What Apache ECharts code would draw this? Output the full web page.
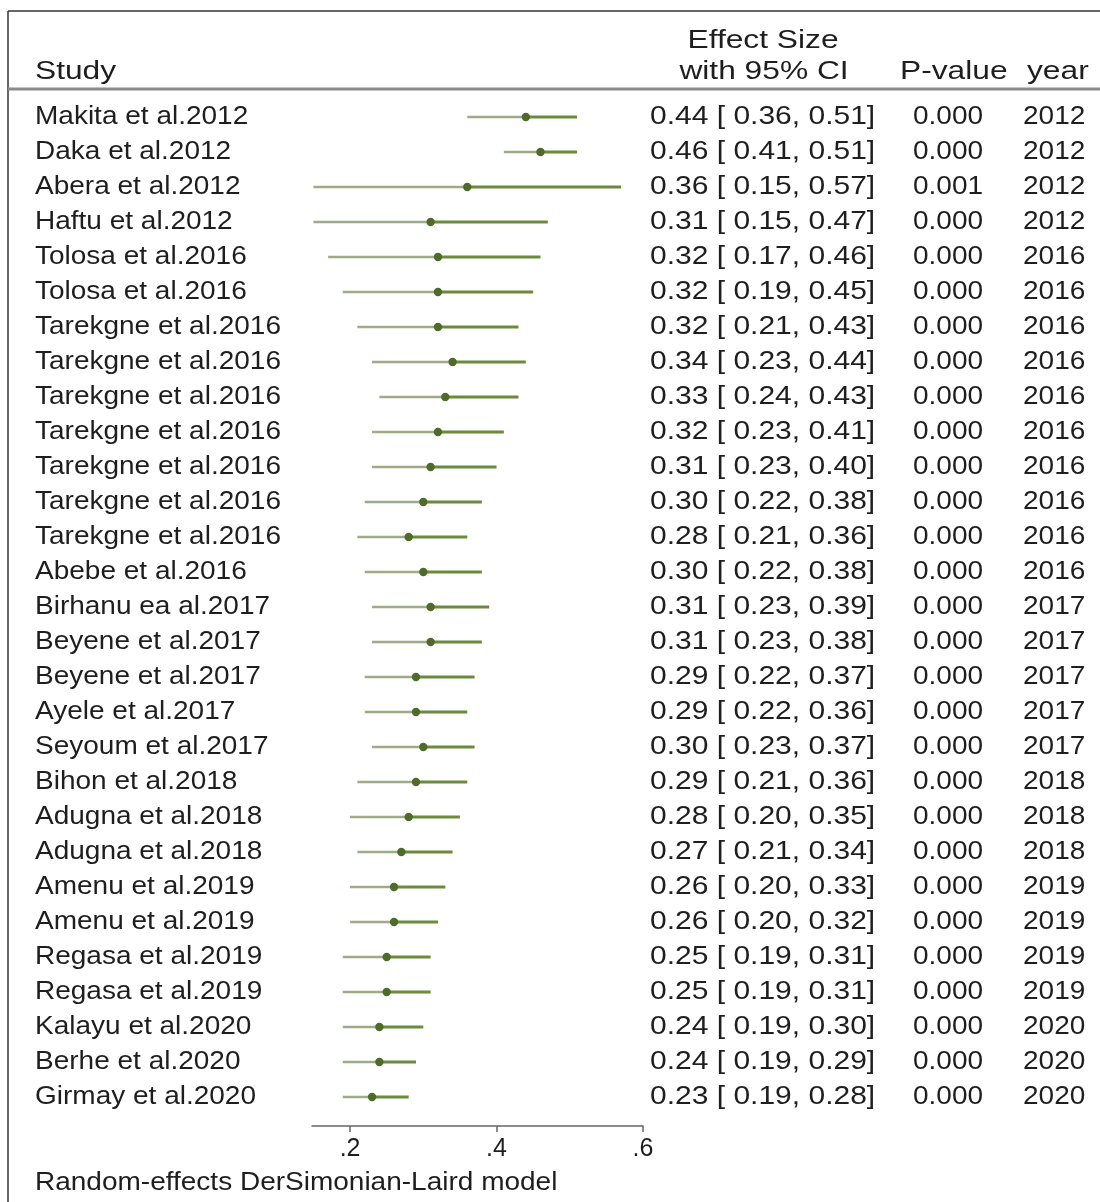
<!DOCTYPE html>
<html><head><meta charset="utf-8">
<script src="https://cdn.jsdelivr.net/npm/echarts@6/dist/echarts.min.js"></script>
<style>html,body{margin:0;padding:0;background:#fff}#c{width:1100px;height:1202px}</style>
</head><body><div id="c"></div>
<script>
const studies = ["Makita et al.2012","Daka et al.2012","Abera et al.2012","Haftu et al.2012","Tolosa et al.2016","Tolosa et al.2016","Tarekgne et al.2016","Tarekgne et al.2016","Tarekgne et al.2016","Tarekgne et al.2016","Tarekgne et al.2016","Tarekgne et al.2016","Tarekgne et al.2016","Abebe et al.2016","Birhanu ea al.2017","Beyene et al.2017","Beyene et al.2017","Ayele et al.2017","Seyoum et al.2017","Bihon et al.2018","Adugna et al.2018","Adugna et al.2018","Amenu et al.2019","Amenu et al.2019","Regasa et al.2019","Regasa et al.2019","Kalayu et al.2020","Berhe et al.2020","Girmay et al.2020"];
const effect = [0.44,0.46,0.36,0.31,0.32,0.32,0.32,0.34,0.33,0.32,0.31,0.30,0.28,0.30,0.31,0.31,0.29,0.29,0.30,0.29,0.28,0.27,0.26,0.26,0.25,0.25,0.24,0.24,0.23];
const lower = [0.36,0.41,0.15,0.15,0.17,0.19,0.21,0.23,0.24,0.23,0.23,0.22,0.21,0.22,0.23,0.23,0.22,0.22,0.23,0.21,0.20,0.21,0.20,0.20,0.19,0.19,0.19,0.19,0.19];
const upper = [0.51,0.51,0.57,0.47,0.46,0.45,0.43,0.44,0.43,0.41,0.40,0.38,0.36,0.38,0.39,0.38,0.37,0.36,0.37,0.36,0.35,0.34,0.33,0.32,0.31,0.31,0.30,0.29,0.28];
const pValues = ["0.000","0.000","0.001","0.000","0.000","0.000","0.000","0.000","0.000","0.000","0.000","0.000","0.000","0.000","0.000","0.000","0.000","0.000","0.000","0.000","0.000","0.000","0.000","0.000","0.000","0.000","0.000","0.000","0.000"];
const years = ["2012","2012","2012","2012","2016","2016","2016","2016","2016","2016","2016","2016","2016","2016","2017","2017","2017","2017","2017","2018","2018","2018","2019","2019","2019","2019","2020","2020","2020"];
const xTicks = [0.2, 0.4, 0.6];
const xRange = [0.148, 0.6];
const headers = {study: "Study", es1: "Effect Size", es2: "with 95% CI", p: "P-value", year: "year"};
const footnote = "Random-effects DerSimonian-Laird model";

const FF = '"Liberation Sans", Arial, sans-serif';
const BODY = '25px ' + FF, HEAD = '26px ' + FF;
const SXB = 1.12, SXCI = 1.2, SXH = 1.22;
const TXT = '#1e1e1e';

function txt(x, y, text, font, sx, align) {
  return {type:'text', x:x, y:y, scaleX:sx,
    style:{text:text, font:font, fill:TXT, align:align||'left', verticalAlign:'middle', textAlign:align||'left', textVerticalAlign:'middle'}};
}

const chart = echarts.init(document.getElementById('c'), null, {renderer:'canvas'});
const ciData = studies.map((s,i)=>[lower[i], effect[i], upper[i], i]);
const tabData = studies.map((s,i)=>[effect[i], i]);

chart.setOption({
  animation:false,
  backgroundColor:'#fff',
  grid:{left:312, width:331, top:99.5, height:1015},
  xAxis:{type:'value', min:xRange[0], max:xRange[1], offset:11.5,
    axisLine:{show:true, lineStyle:{color:'#666', width:1.5}},
    axisTick:{show:true, length:6, customValues:xTicks, lineStyle:{color:'#666', width:1.5}},
    axisLabel:{customValues:xTicks, formatter:v=>String(Math.round(v*10)/10).replace(/^0/,''), fontSize:25, fontFamily:FF, color:TXT, margin:11},
    splitLine:{show:false}},
  yAxis:{type:'category', data:studies, inverse:true, show:false},
  series:[
    {type:'custom', data:ciData, encode:{x:[0,1,2], y:3}, clip:false,
     renderItem:function(params, api){
       const i = api.value(3);
       const pL = api.coord([api.value(0), i]);
       const pE = api.coord([api.value(1), i]);
       const pU = api.coord([api.value(2), i]);
       return {type:'group', children:[
         {type:'line', shape:{x1:pL[0], y1:pL[1], x2:pE[0], y2:pE[1]}, style:{stroke:'#9dab86', lineWidth:2.5}},
         {type:'line', shape:{x1:pE[0], y1:pE[1], x2:pU[0], y2:pU[1]}, style:{stroke:'#6a8a3c', lineWidth:2.8}},
         {type:'circle', shape:{cx:pE[0], cy:pE[1], r:4.2}, style:{fill:'#4f6b2a'}}
       ]};
     }},
    {type:'custom', data:tabData, encode:{x:0, y:1}, clip:false, silent:true,
     renderItem:function(params, api){
       const i = api.value(1);
       const y = api.coord([xRange[0], i])[1];
       const ci = effect[i].toFixed(2) + ' [ ' + lower[i].toFixed(2) + ', ' + upper[i].toFixed(2) + ']';
       return {type:'group', children:[
         txt(35, y, studies[i], BODY, SXB),
         txt(650, y, ci, BODY, SXCI),
         txt(913, y, pValues[i], BODY, SXB),
         txt(1023, y, years[i], BODY, SXB)
       ]};
     }}
  ],
  graphic:[
    {type:'line', shape:{x1:8, y1:11, x2:1100, y2:11}, style:{stroke:'#333', lineWidth:1.5}},
    {type:'line', shape:{x1:8, y1:11, x2:8, y2:1202}, style:{stroke:'#333', lineWidth:1.5}},
    {type:'line', shape:{x1:8, y1:89, x2:1100, y2:89}, style:{stroke:'#8a8a8a', lineWidth:3}},
    txt(35, 72, headers.study, HEAD, SXH),
    txt(763, 41, headers.es1, HEAD, SXH, 'center'),
    txt(764, 72, headers.es2, HEAD, SXH, 'center'),
    txt(900, 72, headers.p, HEAD, SXH),
    txt(1027, 72, headers.year, HEAD, SXH),
    txt(35, 1183, footnote, BODY, SXB)
  ]
});
</script></body></html>
